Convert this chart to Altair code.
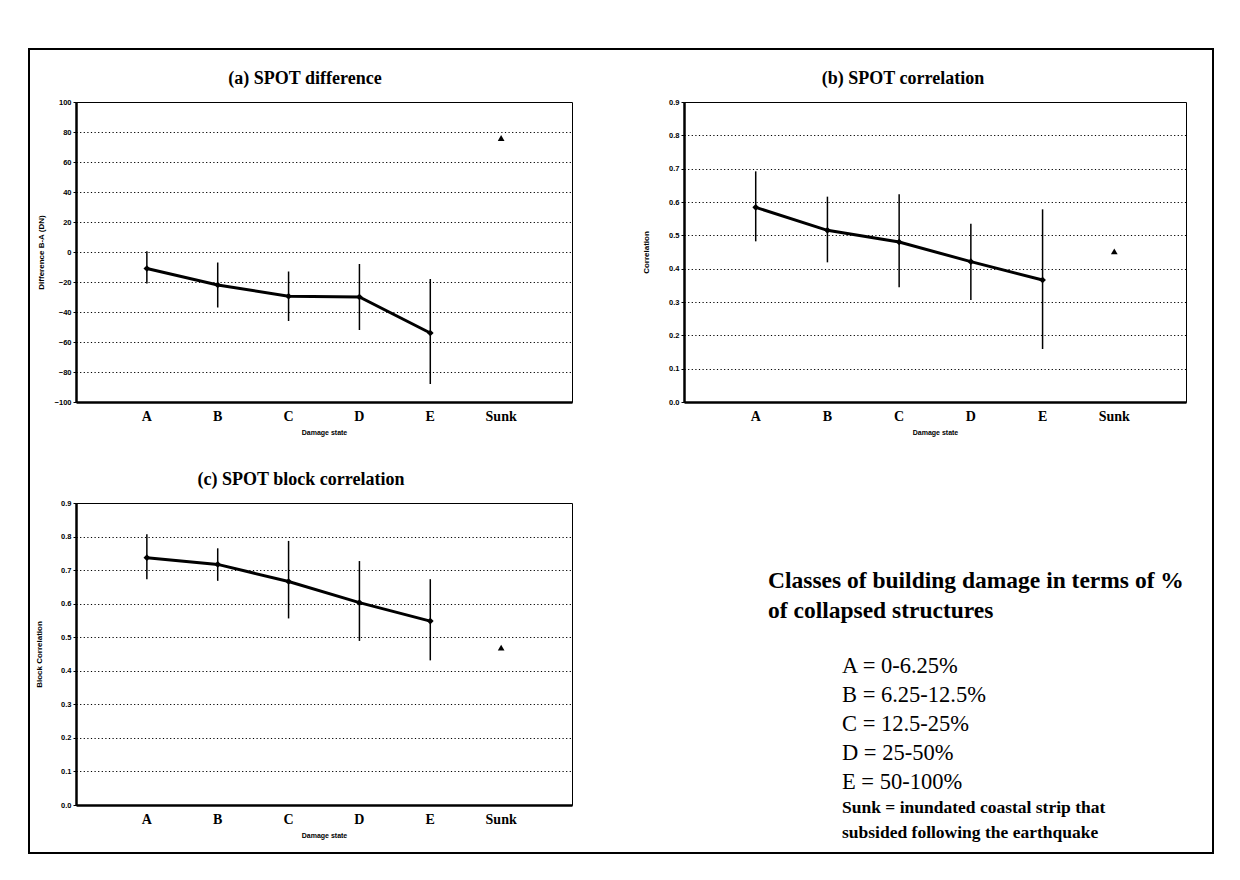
import altair as alt
import pandas as pd

# ---------------- data ----------------
categories = ["A", "B", "C", "D", "E", "Sunk"]
damage_states = ["A", "B", "C", "D", "E"]

# (a) SPOT difference
diff_mean = [-11, -22, -29.5, -30, -54]
diff_low = [-21, -37, -46, -52, -88]
diff_high = [0.5, -7, -13, -8, -18]
diff_sunk = 76

# (b) SPOT correlation
corr_mean = [0.584, 0.515, 0.48, 0.421, 0.366]
corr_low = [0.482, 0.419, 0.344, 0.306, 0.159]
corr_high = [0.692, 0.616, 0.623, 0.535, 0.578]
corr_sunk = 0.452

# (c) SPOT block correlation
block_mean = [0.737, 0.717, 0.666, 0.603, 0.548]
block_low = [0.673, 0.668, 0.556, 0.489, 0.431]
block_high = [0.807, 0.765, 0.787, 0.727, 0.673]
block_sunk = 0.469

diff_ticks = [-100, -80, -60, -40, -20, 0, 20, 40, 60, 80, 100]
corr_ticks = [0.0, 0.1, 0.2, 0.3, 0.4, 0.5, 0.6, 0.7, 0.8, 0.9]

heading_lines = ["Classes of building damage in terms of %", "of collapsed structures"]
class_lines = ["A = 0-6.25%", "B = 6.25-12.5%", "C = 12.5-25%", "D = 25-50%", "E = 50-100%"]
sunk_lines = ["Sunk = inundated coastal strip that", "subsided following the earthquake"]

SERIF = "Liberation Serif"
SANS = "Liberation Sans"


def panel(title, mean, low, high, sunk, ytitle, ticks, fmt, width, height,
          title_dx, extent):
    df = pd.DataFrame({"cat": damage_states, "mean": mean, "low": low, "high": high})
    sdf = pd.DataFrame({"cat": ["Sunk"], "mean": [sunk]})
    xenc = alt.X(
        "cat:N", sort=categories,
        scale=alt.Scale(domain=categories, padding=1.0),
        axis=alt.Axis(title="Damage state", labelAngle=0, labelFont=SERIF, labelFontSize=14,
                      labelFontWeight="bold", labelColor="black", labelPadding=7,
                      ticks=False, tickSize=0, domainColor="black", domainWidth=2.5,
                      titleFont=SANS, titleFontSize=7, titleFontWeight="bold",
                      titleColor="black", titlePadding=5, grid=False))
    yscale = alt.Scale(domain=[ticks[0], ticks[-1]], nice=False, zero=False)
    yaxis = alt.Axis(title=ytitle, values=ticks, format=fmt, labelFont=SANS, labelFontSize=7.5,
                     labelFontWeight="bold", labelColor="black", labelPadding=2,
                     tickSize=3, tickColor="black", tickWidth=1,
                     domainColor="black", domainWidth=2.5,
                     grid=True, gridColor="black", gridDash=[1.2, 2.4], gridWidth=1.2,
                     minExtent=extent, maxExtent=extent,
                     titleFont=SANS, titleFontSize=8, titleFontWeight="bold",
                     titleColor="black", titlePadding=5)
    base = alt.Chart(df)
    bars = base.mark_rule(color="black", strokeWidth=1.5).encode(
        x=xenc, y=alt.Y("low:Q", scale=yscale, axis=yaxis), y2="high:Q")
    line = base.mark_line(color="black", strokeWidth=3).encode(
        x=xenc, y=alt.Y("mean:Q", scale=yscale, axis=yaxis))
    pts = base.mark_point(shape="diamond", filled=True, size=45, color="black", opacity=1).encode(
        x=xenc, y=alt.Y("mean:Q", scale=yscale, axis=yaxis))
    sk = alt.Chart(sdf).mark_point(shape="triangle-up", filled=True, size=45, color="black",
                                   opacity=1).encode(
        x=xenc, y=alt.Y("mean:Q", scale=yscale, axis=yaxis))
    return alt.layer(bars, line, pts, sk).properties(
        width=width, height=height,
        title=alt.Title(title, font=SERIF, fontSize=18, fontWeight="bold", color="black",
                        anchor="middle", frame="group", offset=10, dx=title_dx),
        view=alt.ViewBackground(stroke="black", strokeWidth=1),
    )


pa = panel("(a) SPOT difference", diff_mean, diff_low, diff_high, diff_sunk,
           "Difference B-A (DN)", diff_ticks, "d", 496, 300, -19, 26)
pb = panel("(b) SPOT correlation", corr_mean, corr_low, corr_high, corr_sunk,
           "Correlation", corr_ticks, ".1f", 502, 300, -32, 29)
pc = panel("(c) SPOT block correlation", block_mean, block_low, block_high, block_sunk,
           "Block Correlation", corr_ticks, ".1f", 496, 302, -23, 28)

# outer frame of the figure (decoration), drawn from the legend cell
frame = alt.Chart(pd.DataFrame({"k": [0]})).mark_rect(
    fillOpacity=0, stroke="black", strokeWidth=2).encode(
    x=alt.value(-655), x2=alt.value(529), y=alt.value(-454), y2=alt.value(350))

heading = alt.Chart(pd.DataFrame({"t": ["\n".join(heading_lines)]})).mark_text(
    lineBreak="\n", align="left", baseline="alphabetic", font=SERIF, fontSize=23.5,
    fontWeight="bold", color="black", lineHeight=30).encode(
    text="t:N", x=alt.value(84), y=alt.value(85))
classes = alt.Chart(pd.DataFrame({"t": ["\n".join(class_lines)]})).mark_text(
    lineBreak="\n", align="left", baseline="alphabetic", font=SERIF, fontSize=22.5,
    color="black", lineHeight=29).encode(
    text="t:N", x=alt.value(158), y=alt.value(170))
sunk_txt = alt.Chart(pd.DataFrame({"t": ["\n".join(sunk_lines)]})).mark_text(
    lineBreak="\n", align="left", baseline="alphabetic", font=SERIF, fontSize=17.5,
    fontWeight="bold", color="black", lineHeight=25).encode(
    text="t:N", x=alt.value(158), y=alt.value(310))
legend_panel = alt.layer(frame, heading, classes, sunk_txt).properties(
    width=500, height=300, view=alt.ViewBackground(stroke="transparent"))

chart = alt.concat(pa, pb, pc, legend_panel, columns=2,
                   spacing={"row": 101, "column": 112}, bounds="flush").properties(
    padding={"left": 19, "top": 39, "right": 5, "bottom": 5},
    background="white",
)

chart.save("out.html", embed_options={"renderer": "svg", "actions": False})
